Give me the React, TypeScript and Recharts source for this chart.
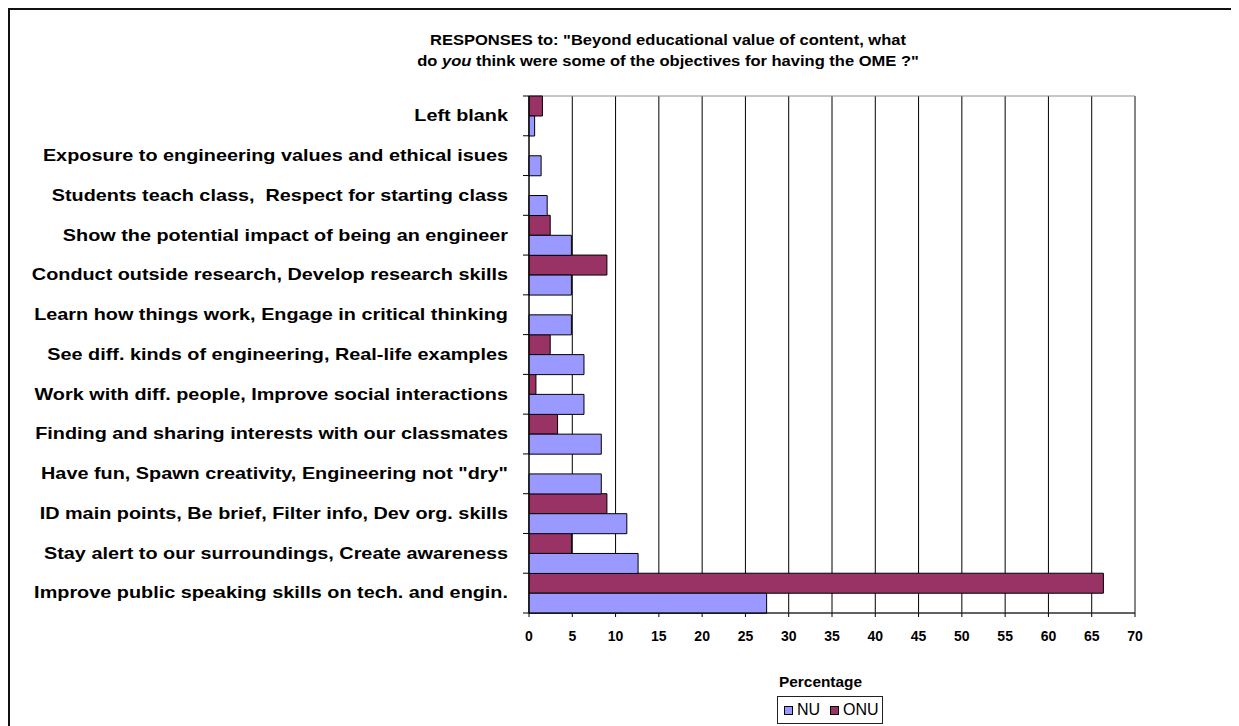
import React from "react";
import {
  BarChart,
  Bar,
  XAxis,
  YAxis,
  CartesianGrid,
  ReferenceArea,
} from "recharts";

// Objectives, listed top to bottom
const objectives = [
  "Left blank",
  "Exposure to engineering values and ethical isues",
  "Students teach class,  Respect for starting class",
  "Show the potential impact of being an engineer",
  "Conduct outside research, Develop research skills",
  "Learn how things work, Engage in critical thinking",
  "See diff. kinds of engineering, Real-life examples",
  "Work with diff. people, Improve social interactions",
  "Finding and sharing interests with our classmates",
  'Have fun, Spawn creativity, Engineering not "dry"',
  "ID main points, Be brief, Filter info, Dev org. skills",
  "Stay alert to our surroundings, Create awareness",
  "Improve public speaking skills on tech. and engin.",
];

// Percentage of responses per group
const nuValues = [0.65, 1.4, 2.1, 4.9, 4.9, 4.9, 6.35, 6.35, 8.35, 8.35, 11.3, 12.6, 27.45];
const onuValues = [1.55, 0, 0, 2.45, 9.0, 0, 2.45, 0.8, 3.3, 0, 9.0, 4.9, 66.35];

const percentTicks = [0, 5, 10, 15, 20, 25, 30, 35, 40, 45, 50, 55, 60, 65, 70];

const series = [
  { key: "nu", name: "NU", color: "#9999FF" },
  { key: "onu", name: "ONU", color: "#993366" },
];

const data = objectives.map((label, i) => ({
  label,
  nu: nuValues[i],
  onu: onuValues[i],
}));

const FONT = '"Liberation Sans", Arial, sans-serif';
const WIDTH = 1229;
const HEIGHT = 716;
const MARGIN = { top: 86, right: 104, bottom: 83, left: 0 };
const Y_AXIS_WIDTH = 519;
const X_AXIS_HEIGHT = 30;
const AXIS_X = MARGIN.left + Y_AXIS_WIDTH;
const PLOT_H = HEIGHT - MARGIN.top - MARGIN.bottom - X_AXIS_HEIGHT;
const BAND = PLOT_H / objectives.length;
// the text in this chart is drawn a little wide
const STRETCH = 1.24;

function CategoryTick(props: any) {
  const { y, payload, index } = props;
  return (
    <g>
      {index === 0 && (
        <line x1={AXIS_X - 6} x2={AXIS_X} y1={y - BAND / 2} y2={y - BAND / 2} stroke="#000" />
      )}
      <line x1={AXIS_X - 6} x2={AXIS_X} y1={y + BAND / 2} y2={y + BAND / 2} stroke="#000" />
      <text
        transform={`translate(${AXIS_X - 21},${y}) scale(${STRETCH},1)`}
        textAnchor="end"
        dominantBaseline="central"
        fontFamily={FONT}
        fontWeight="bold"
        fontSize={16}
        fill="#000"
        style={{ whiteSpace: "pre" }}
      >
        {payload.value}
      </text>
    </g>
  );
}

export default function App() {
  return (
    <div
      style={{
        position: "relative",
        width: WIDTH,
        height: HEIGHT,
        borderLeft: "2px solid #111",
        borderTop: "2px solid #111",
        background: "#fff",
        fontFamily: FONT,
      }}
    >
      <div
        style={{
          position: "absolute",
          left: 358,
          width: 600,
          top: 20,
          textAlign: "center",
          fontWeight: "bold",
          fontSize: 14,
          lineHeight: "21px",
          color: "#000",
          transform: "scaleX(1.18)",
          transformOrigin: "300px 0",
        }}
      >
        RESPONSES to: "Beyond educational value of content, what
        <br />
        do <i>you</i> think were some of the objectives for having the OME ?"
      </div>

      <BarChart
        width={WIDTH}
        height={HEIGHT}
        data={data}
        layout="vertical"
        margin={MARGIN}
        barCategoryGap={0}
        barGap={0}
      >
        <CartesianGrid horizontal={false} stroke="#000" />
        <ReferenceArea x1={0} x2={70} fill="none" stroke="#8c8c8c" strokeWidth={1} />
        <XAxis
          type="number"
          domain={[0, 70]}
          ticks={percentTicks}
          height={X_AXIS_HEIGHT}
          interval={0}
          stroke="#000"
          tickSize={4}
          tickMargin={14}
          tick={{ fill: "#000", fontSize: 14, fontWeight: "bold", fontFamily: FONT }}
        />
        <YAxis
          type="category"
          dataKey="label"
          width={Y_AXIS_WIDTH}
          interval={0}
          stroke="#000"
          tickLine={false}
          tick={<CategoryTick />}
        />
        <Bar dataKey="onu" name="ONU" fill="#993366" stroke="#000" strokeWidth={1} isAnimationActive={false} />
        <Bar dataKey="nu" name="NU" fill="#9999FF" stroke="#000" strokeWidth={1} isAnimationActive={false} />
      </BarChart>

      <div
        style={{
          position: "absolute",
          left: 769,
          top: 664,
          fontWeight: "bold",
          fontSize: 14,
          color: "#000",
          transform: "scaleX(1.1)",
          transformOrigin: "0 0",
        }}
      >
        Percentage
      </div>
      <div
        style={{
          position: "absolute",
          left: 767,
          top: 686,
          width: 106,
          height: 28,
          border: "1px solid #222",
          display: "flex",
          alignItems: "center",
          gap: 10,
          paddingLeft: 6,
          boxSizing: "border-box",
          fontSize: 16,
          color: "#000",
        }}
      >
        {series.map((s) => (
          <span key={s.key} style={{ display: "flex", alignItems: "center", gap: 4 }}>
            <span
              style={{
                display: "inline-block",
                width: 7,
                height: 7,
                background: s.color,
                border: "1px solid #000",
              }}
            />
            {s.name}
          </span>
        ))}
      </div>
    </div>
  );
}
